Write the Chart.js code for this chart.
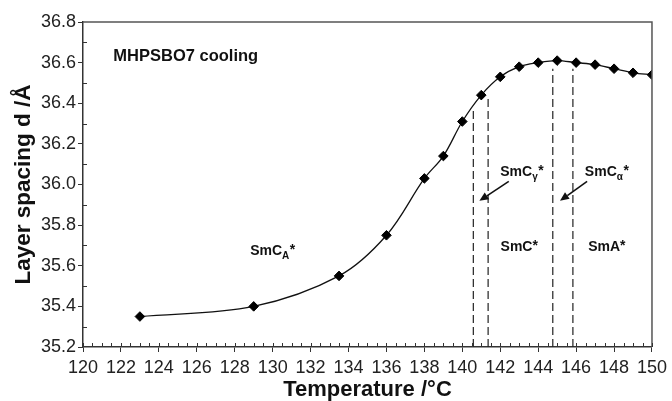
<!DOCTYPE html>
<html>
<head>
<meta charset="utf-8">
<script src="https://cdn.jsdelivr.net/npm/chart.js@4.4.1/dist/chart.umd.min.js"></script>
<style>
  html, body { margin: 0; padding: 0; background: #ffffff; }
  #wrap { width: 672px; height: 401px; }
</style>
</head>
<body>
<div id="wrap"><canvas id="c"></canvas></div>
<script>
// Layer spacing of MHPSBO7 measured on cooling
const temperatures = [123, 129, 133.5, 136, 138, 139, 140, 141, 142, 143, 144, 145, 146, 147, 148, 149, 150];
const spacings     = [35.35, 35.40, 35.55, 35.75, 36.03, 36.14, 36.31, 36.44, 36.53, 36.58, 36.60, 36.61, 36.60, 36.59, 36.57, 36.55, 36.54];

// Axis tick labels
const xTickValues = [120, 122, 124, 126, 128, 130, 132, 134, 136, 138, 140, 142, 144, 146, 148, 150];
const yTickValues = [35.2, 35.4, 35.6, 35.8, 36.0, 36.2, 36.4, 36.6, 36.8];

// Phase transition temperatures (dashed lines) and where each line starts
const boundaryTemps = [140.58, 141.36, 144.77, 145.83];
const boundaryTops  = [36.37, 36.43, 36.57, 36.57];

// Phase names: main text, subscript, position in data units
const phaseNames = ['SmC', 'SmC', 'SmC', 'SmC', 'SmA'];
const phaseSubs  = ['A', '\u03B3', '\u03B1', '', ''];
const phaseX     = [130.0, 142.0, 146.46, 143.0, 147.62];
const phaseY     = [35.67, 36.06, 36.06, 35.69, 35.69];
const phaseAlign = ['center', 'left', 'left', 'center', 'center'];

// Pointer arrows: from (x0,y0) to (x1,y1) in data units
const arrowFromX = [142.45, 146.58];
const arrowFromY = [36.015, 36.015];
const arrowToX   = [140.9, 145.15];
const arrowToY   = [35.92, 35.92];

const sampleTitle = 'MHPSBO7 cooling';
const FONT = "'Liberation Sans', Arial, Helvetica, sans-serif";

const points = temperatures.map((t, i) => ({ x: t, y: spacings[i] }));
const boundaryDatasets = boundaryTemps.map((t, i) => ({
  type: 'line',
  data: [{ x: t, y: 35.2 }, { x: t, y: boundaryTops[i] }],
  borderColor: '#222',
  borderWidth: 1.2,
  borderDash: [8, 4],
  pointRadius: 0,
  fill: false,
  order: 3
}));

const decorPlugin = {
  id: 'decor',
  afterDatasetsDraw(chart) {
    const ctx = chart.ctx;
    const xs = chart.scales.x, ys = chart.scales.y;
    const a = chart.chartArea;
    ctx.save();

    // top and right frame
    ctx.strokeStyle = '#555';
    ctx.lineWidth = 1.5;
    ctx.beginPath();
    ctx.moveTo(a.left, a.top);
    ctx.lineTo(a.right, a.top);
    ctx.lineTo(a.right, a.bottom);
    ctx.stroke();

    // inward ticks (minor every 0.5 / 0.1, and inner part of majors)
    ctx.strokeStyle = '#333';
    ctx.lineWidth = 1;
    ctx.beginPath();
    for (let k = 0; k <= 60; k++) {
      const v = 120 + k * 0.5;
      const px = Math.round(xs.getPixelForValue(v)) + 0.5;
      ctx.moveTo(px, a.bottom);
      ctx.lineTo(px, a.bottom - 4);
    }
    for (let k = 0; k <= 16; k++) {
      const v = 35.2 + k * 0.1;
      const py = Math.round(ys.getPixelForValue(v)) + 0.5;
      if (k % 2 === 1) {
        ctx.moveTo(a.left, py);
        ctx.lineTo(a.left + 4, py);
      }
    }
    ctx.stroke();

    // sample title
    ctx.fillStyle = '#111';
    ctx.font = 'bold 16.5px ' + FONT;
    ctx.textBaseline = 'middle';
    ctx.textAlign = 'left';
    ctx.fillText(sampleTitle, xs.getPixelForValue(121.6), ys.getPixelForValue(36.63));

    // phase names with subscripts and star
    for (let i = 0; i < phaseNames.length; i++) {
      const mainFont = 'bold 14px ' + FONT;
      const subFont = 'bold 10px ' + FONT;
      ctx.font = mainFont;
      const wMain = ctx.measureText(phaseNames[i]).width;
      const wStar = ctx.measureText('*').width;
      ctx.font = subFont;
      const wSub = phaseSubs[i] ? ctx.measureText(phaseSubs[i]).width + 0.5 : 0;
      const total = wMain + wSub + wStar;
      let x = xs.getPixelForValue(phaseX[i]);
      if (phaseAlign[i] === 'center') x -= total / 2;
      const y = ys.getPixelForValue(phaseY[i]);
      ctx.textAlign = 'left';
      ctx.textBaseline = 'middle';
      ctx.font = mainFont;
      ctx.fillText(phaseNames[i], x, y);
      if (phaseSubs[i]) {
        ctx.font = subFont;
        ctx.fillText(phaseSubs[i], x + wMain, y + 5);
      }
      ctx.font = mainFont;
      ctx.fillText('*', x + wMain + wSub, y - 1);
    }

    // arrows
    ctx.strokeStyle = '#111';
    ctx.fillStyle = '#111';
    ctx.lineWidth = 1.6;
    for (let i = 0; i < arrowFromX.length; i++) {
      const x0 = xs.getPixelForValue(arrowFromX[i]), y0 = ys.getPixelForValue(arrowFromY[i]);
      const x1 = xs.getPixelForValue(arrowToX[i]), y1 = ys.getPixelForValue(arrowToY[i]);
      const ang = Math.atan2(y1 - y0, x1 - x0);
      const hl = 9, hw = 4;
      const bx = x1 - hl * Math.cos(ang), by = y1 - hl * Math.sin(ang);
      ctx.beginPath();
      ctx.moveTo(x0, y0);
      ctx.lineTo(bx, by);
      ctx.stroke();
      ctx.beginPath();
      ctx.moveTo(x1, y1);
      ctx.lineTo(bx + hw * Math.sin(ang), by - hw * Math.cos(ang));
      ctx.lineTo(bx - hw * Math.sin(ang), by + hw * Math.cos(ang));
      ctx.closePath();
      ctx.fill();
    }
    ctx.restore();
  }
};

new Chart(document.getElementById('c'), {
  type: 'scatter',
  data: {
    datasets: [
      {
        type: 'line',
        data: points,
        borderColor: '#111',
        borderWidth: 1.3,
        tension: 0.35,
        pointRadius: 0,
        fill: false,
        order: 2
      },
      {
        type: 'scatter',
        data: points,
        pointStyle: 'rectRot',
        pointRadius: 4.8,
        pointBackgroundColor: '#000',
        pointBorderColor: '#000',
        pointBorderWidth: 1,
        order: 1
      },
      ...boundaryDatasets
    ]
  },
  options: {
    responsive: true,
    maintainAspectRatio: false,
    animation: false,
    events: [],
    layout: { padding: { top: 22, right: 16, left: 0, bottom: 0 } },
    plugins: { legend: { display: false }, tooltip: { enabled: false } },
    scales: {
      x: {
        type: 'linear',
        min: 120, max: 150,
        afterBuildTicks(scale) { scale.ticks = xTickValues.map(v => ({ value: v })); },
        afterFit(scale) { scale.height = 54; },
        grid: { display: true, drawOnChartArea: false, drawTicks: true, tickLength: 5, color: '#333', lineWidth: 1 },
        border: { display: true, color: '#333', width: 1.5 },
        ticks: { color: '#222', font: { family: FONT, size: 18 }, padding: 5, maxRotation: 0, autoSkip: false,
                 callback: v => String(v) },
        title: { display: true, text: 'Temperature /\u00B0C', color: '#111',
                 font: { family: FONT, size: 22, weight: 'bold', lineHeight: 1.0 }, padding: { top: 0, bottom: 0 } }
      },
      y: {
        type: 'linear',
        min: 35.2, max: 36.8,
        afterBuildTicks(scale) { scale.ticks = yTickValues.map(v => ({ value: v })); },
        afterFit(scale) { scale.width = 83; },
        grid: { display: true, drawOnChartArea: false, drawTicks: true, tickLength: 5, color: '#333', lineWidth: 1 },
        border: { display: true, color: '#333', width: 1.5 },
        ticks: { color: '#222', font: { family: FONT, size: 18 }, padding: 2, autoSkip: false,
                 callback: v => Number(v).toFixed(1) },
        title: { display: true, text: 'Layer spacing d /\u00C5', color: '#111',
                 font: { family: FONT, size: 22.5, weight: 'bold', lineHeight: 1.0 }, padding: { top: 13, bottom: 0 } }
      }
    }
  },
  plugins: [decorPlugin]
});
</script>
</body>
</html>
